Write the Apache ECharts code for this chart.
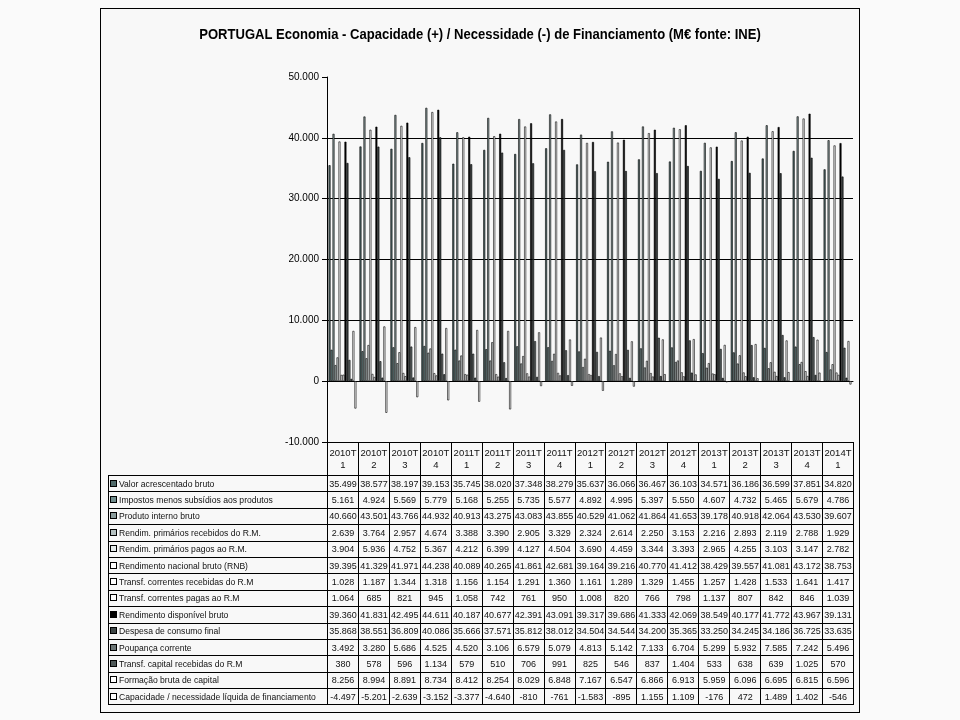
<!DOCTYPE html>
<html>
<head>
<meta charset="utf-8">
<script src="https://cdn.jsdelivr.net/npm/echarts@6/dist/echarts.min.js"></script>
<style>
  html, body { margin: 0; padding: 0; background: #fafafa; }
  #wrap { position: relative; width: 960px; height: 720px; }
  #frame { position: absolute; left: 100px; top: 8px; width: 760px; height: 705px; border: 1px solid #000; box-sizing: border-box; background: #f8f8f8; }
  #chart { position: absolute; left: 0; top: 0; width: 960px; height: 720px; }
  #tbl { position: absolute; left: 108px; top: 442px; border-collapse: collapse; table-layout: fixed; width: 746px;
         font-family: "Liberation Sans", Arial, sans-serif; font-size: 9px; color: #111; }
  #tbl td, #tbl th { border: 1px solid #000; padding: 0; overflow: hidden; white-space: nowrap; font-weight: normal; }
  #tbl th.blank { border: none; border-right: 1px solid #000; }
  #tbl th { height: 32px; font-size: 9.5px; line-height: 12px; text-align: center; }
  #tbl td { height: 15.4px; text-align: center; }
  #tbl td.lab { text-align: left; padding-left: 1px; font-size: 8.6px; }
  .key { display: inline-block; width: 5px; height: 5px; border: 1px solid #000; margin-right: 2px; vertical-align: 0px; }
</style>
</head>
<body>
<div id="wrap">
  <div id="frame"></div>
  <div id="chart"></div>
  <table id="tbl"></table>
</div>
<script>
const categories = ['2010T1','2010T2','2010T3','2010T4','2011T1','2011T2','2011T3','2011T4','2012T1','2012T2','2012T3','2012T4','2013T1','2013T2','2013T3','2013T4','2014T1'];

const seriesNames = [
  'Valor acrescentado bruto',
  'Impostos menos subsídios aos produtos',
  'Produto interno bruto',
  'Rendim. primários recebidos do R.M.',
  'Rendim. primários pagos ao R.M.',
  'Rendimento nacional bruto (RNB)',
  'Transf. correntes recebidas do R.M',
  'Transf. correntes pagas ao R.M',
  'Rendimento disponível bruto',
  'Despesa de consumo final',
  'Poupança corrente',
  'Transf. capital recebidas do R.M',
  'Formação bruta de capital',
  'Capacidade / necessidade líquida de financiamento'
];

const valorAcrescentado = [35499,38577,38197,39153,35745,38020,37348,38279,35637,36066,36467,36103,34571,36186,36599,37851,34820];
const impostos = [5161,4924,5569,5779,5168,5255,5735,5577,4892,4995,5397,5550,4607,4732,5465,5679,4786];
const pib = [40660,43501,43766,44932,40913,43275,43083,43855,40529,41062,41864,41653,39178,40918,42064,43530,39607];
const rendPrimRecebidos = [2639,3764,2957,4674,3388,3390,2905,3329,2324,2614,2250,3153,2216,2893,2119,2788,1929];
const rendPrimPagos = [3904,5936,4752,5367,4212,6399,4127,4504,3690,4459,3344,3393,2965,4255,3103,3147,2782];
const rnb = [39395,41329,41971,44238,40089,40265,41861,42681,39164,39216,40770,41412,38429,39557,41081,43172,38753];
const transfCorrRecebidas = [1028,1187,1344,1318,1156,1154,1291,1360,1161,1289,1329,1455,1257,1428,1533,1641,1417];
const transfCorrPagas = [1064,685,821,945,1058,742,761,950,1008,820,766,798,1137,807,842,846,1039];
const rendDisponivel = [39360,41831,42495,44611,40187,40677,42391,43091,39317,39686,41333,42069,38549,40177,41772,43967,39131];
const despesaConsumo = [35868,38551,36809,40086,35666,37571,35812,38012,34504,34544,34200,35365,33250,34245,34186,36725,33635];
const poupanca = [3492,3280,5686,4525,4520,3106,6579,5079,4813,5142,7133,6704,5299,5932,7585,7242,5496];
const transfCapital = [380,578,596,1134,579,510,706,991,825,546,837,1404,533,638,639,1025,570];
const fbc = [8256,8994,8891,8734,8412,8254,8029,6848,7167,6547,6866,6913,5959,6096,6695,6815,6596];
const capacidade = [-4497,-5201,-2639,-3152,-3377,-4640,-810,-761,-1583,-895,1155,1109,-176,472,1489,1402,-546];

const seriesValues = [valorAcrescentado, impostos, pib, rendPrimRecebidos, rendPrimPagos, rnb,
  transfCorrRecebidas, transfCorrPagas, rendDisponivel, despesaConsumo, poupanca, transfCapital, fbc, capacidade];

const titleText = 'PORTUGAL Economia - Capacidade (+) / Necessidade (-) de Financiamento (M€ fonte: INE)';

const fills = ['#506a6a','#6f8c8c','#8a9c9c','#b4c0c0','#e6ecec','#ffffff','#ffffff','#ffffff',
               '#000000','#3e4646','#6c7676','#4e5858','#ffffff','#ffffff'];

function fmt(v) {
  const s = Math.abs(v).toString().replace(/\B(?=(\d{3})+(?!\d))/g, '.');
  return (v < 0 ? '-' : '') + s;
}

const chart = echarts.init(document.getElementById('chart'), null, { renderer: 'canvas' });
chart.setOption({
  animation: false,
  backgroundColor: 'transparent',
  graphic: [{
    type: 'text', x: 480, y: 35, scaleX: 0.87,
    style: {
      text: titleText, align: 'center', verticalAlign: 'middle',
      font: 'bold 15px "Liberation Sans", Arial, sans-serif', fill: '#000'
    }
  }],
  grid: { left: 327, top: 77, width: 526, height: 365 },
  xAxis: {
    type: 'category', data: categories,
    axisLine: { onZero: true, lineStyle: { color: '#000', width: 1 } },
    axisTick: { show: false }, axisLabel: { show: false }, splitLine: { show: false }
  },
  yAxis: {
    type: 'value', min: -10000, max: 50000, interval: 10000,
    axisLine: { show: true, lineStyle: { color: '#000', width: 1 } },
    axisTick: { show: true, length: 5, lineStyle: { color: '#000' } },
    axisLabel: { formatter: fmt, fontSize: 10, color: '#000', margin: 8, fontFamily: '"Liberation Sans", Arial, sans-serif' },
    splitLine: { show: true, showMaxLine: false, lineStyle: { color: '#000', width: 1 } }
  },
  series: seriesNames.map((name, i) => ({
    name, type: 'bar', data: seriesValues[i],
    barGap: '0%', barCategoryGap: '10%',
    itemStyle: { color: fills[i], borderColor: '#000', borderWidth: 0.6 }
  }))
});

// Data table
const tbl = document.getElementById('tbl');
let html = '<colgroup><col style="width:219px">' + categories.map(() => '<col style="width:30.94px">').join('') + '</colgroup>';
html += '<tr><th class="blank"></th>' + categories.map(c => '<th>' + c.slice(0, 5) + '<br>' + c.slice(5) + '</th>').join('') + '</tr>';
seriesNames.forEach((name, i) => {
  html += '<tr><td class="lab"><span class="key" style="background:' + fills[i] + '"></span>' + name + '</td>' +
    seriesValues[i].map(v => '<td>' + fmt(v) + '</td>').join('') + '</tr>';
});
tbl.innerHTML = html;
</script>
</body>
</html>
